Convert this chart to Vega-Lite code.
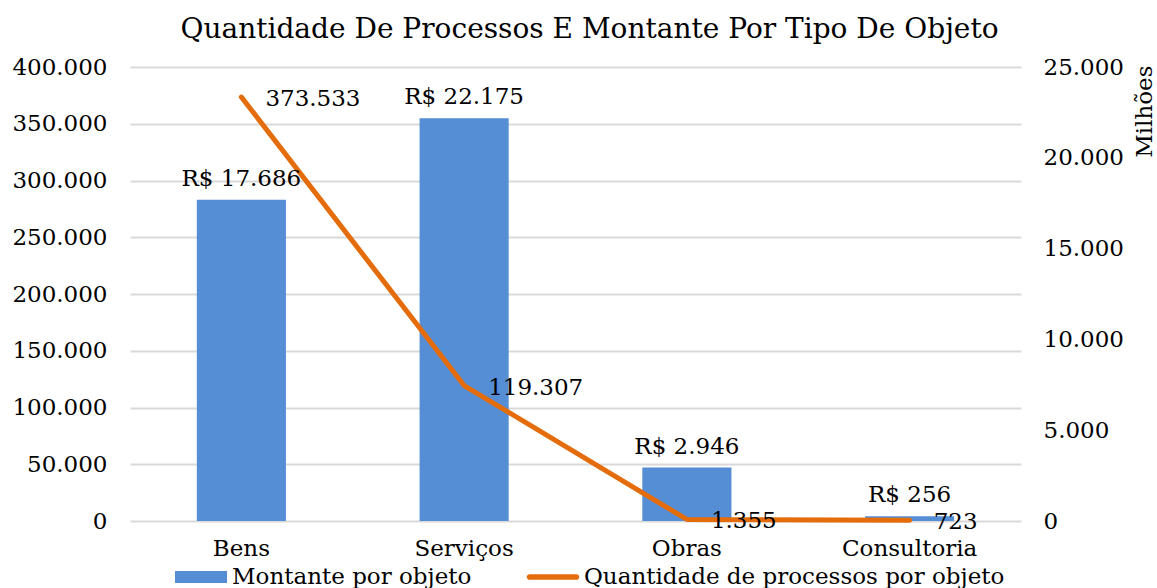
{
  "$schema": "https://vega.github.io/schema/vega-lite/v6.json",
  "width": 891,
  "height": 454,
  "autosize": {"type": "none"},
  "padding": {"left": 130, "top": 67, "right": 136, "bottom": 67},
  "config": {
    "locale": {"number": {"decimal": ",", "thousands": ".", "grouping": [3], "currency": ["R$ ", ""]}},
    "font": "DejaVu Serif",
    "view": {"stroke": null},
    "axis": {"labelFont": "DejaVu Serif", "labelFontSize": 23, "labelColor": "#000000", "ticks": false, "domain": false, "grid": false, "titleFont": "DejaVu Serif", "titleFontWeight": "normal", "titleColor": "#000000"},
    "legend": {"labelFont": "DejaVu Serif", "labelFontSize": 23, "labelColor": "#000000", "labelLimit": 0},
    "text": {"font": "DejaVu Serif", "fontSize": 23, "color": "#000000"}
  },
  "title": {"text": "Quantidade De Processos E Montante Por Tipo De Objeto", "font": "DejaVu Serif", "fontSize": 28, "fontWeight": "normal", "color": "#000000", "dx": 14, "offset": 12},
  "data": {"values": [
    {"objeto": "Bens", "montante": 17686, "quantidade": 373533, "serie": "Montante por objeto"},
    {"objeto": "Serviços", "montante": 22175, "quantidade": 119307, "serie": "Montante por objeto"},
    {"objeto": "Obras", "montante": 2946, "quantidade": 1355, "serie": "Montante por objeto"},
    {"objeto": "Consultoria", "montante": 256, "quantidade": 723, "serie": "Montante por objeto"}
  ]},
  "encoding": {
    "x": {"field": "objeto", "type": "nominal", "sort": null, "scale": {"paddingInner": 0.6, "paddingOuter": 0.3}, "axis": {"title": null, "labelAngle": 0, "labelPadding": 16}}
  },
  "layer": [
    {
      "mark": {"type": "bar", "color": "#558ED5"},
      "encoding": {
        "y": {"field": "montante", "type": "quantitative", "scale": {"domain": [0, 25000]}, "axis": {"orient": "right", "values": [0, 5000, 10000, 15000, 20000, 25000], "format": ",d", "labelPadding": 22, "title": "Milhões", "titleFontSize": 23, "titleAngle": 270, "titleAlign": "right", "titleBaseline": "middle", "titleX": 123, "titleY": -2}},
        "color": {"field": "serie", "type": "nominal", "scale": {"domain": ["Montante por objeto", "Quantidade de processos por objeto"], "range": ["#558ED5", "#E46C0A"]}, "legend": {"title": null, "orient": "none", "direction": "horizontal", "legendX": 45, "legendY": 484, "columnPadding": 54, "labelOffset": 5, "labelLimit": 0, "symbolSize": 2704, "encode": {"symbols": {"update": {"shape": {"signal": "datum.value == 'Montante por objeto' ? 'M-1,-0.23H1V0.23H-1Z' : 'M-0.9,-0.11H0.9A0.11,0.11,0,0,1,0.9,0.11H-0.9A0.11,0.11,0,0,1,-0.9,-0.11Z'"}, "strokeWidth": {"value": 0}}}}}}
      }
    },
    {
      "mark": {"type": "line", "color": "#E46C0A", "strokeWidth": 5, "strokeCap": "round", "strokeJoin": "round"},
      "encoding": {
        "y": {"field": "quantidade", "type": "quantitative", "scale": {"domain": [0, 400000]}, "axis": {"orient": "left", "title": null, "values": [0, 50000, 100000, 150000, 200000, 250000, 300000, 350000, 400000], "format": ",d", "grid": true, "gridColor": "#D9D9D9", "gridWidth": 2, "labelPadding": 23}}
      }
    },
    {
      "mark": {"type": "text", "baseline": "alphabetic", "dy": -14},
      "encoding": {
        "y": {"field": "montante", "type": "quantitative", "scale": {"domain": [0, 25000]}, "axis": null},
        "text": {"field": "montante", "type": "quantitative", "format": "$,.0f"}
      }
    },
    {
      "mark": {"type": "text", "align": "left", "baseline": "middle", "dx": 24, "dy": 2},
      "encoding": {
        "y": {"field": "quantidade", "type": "quantitative", "scale": {"domain": [0, 400000]}, "axis": null},
        "text": {"field": "quantidade", "type": "quantitative", "format": ",d"}
      }
    }
  ],
  "resolve": {"scale": {"y": "independent"}}
}
